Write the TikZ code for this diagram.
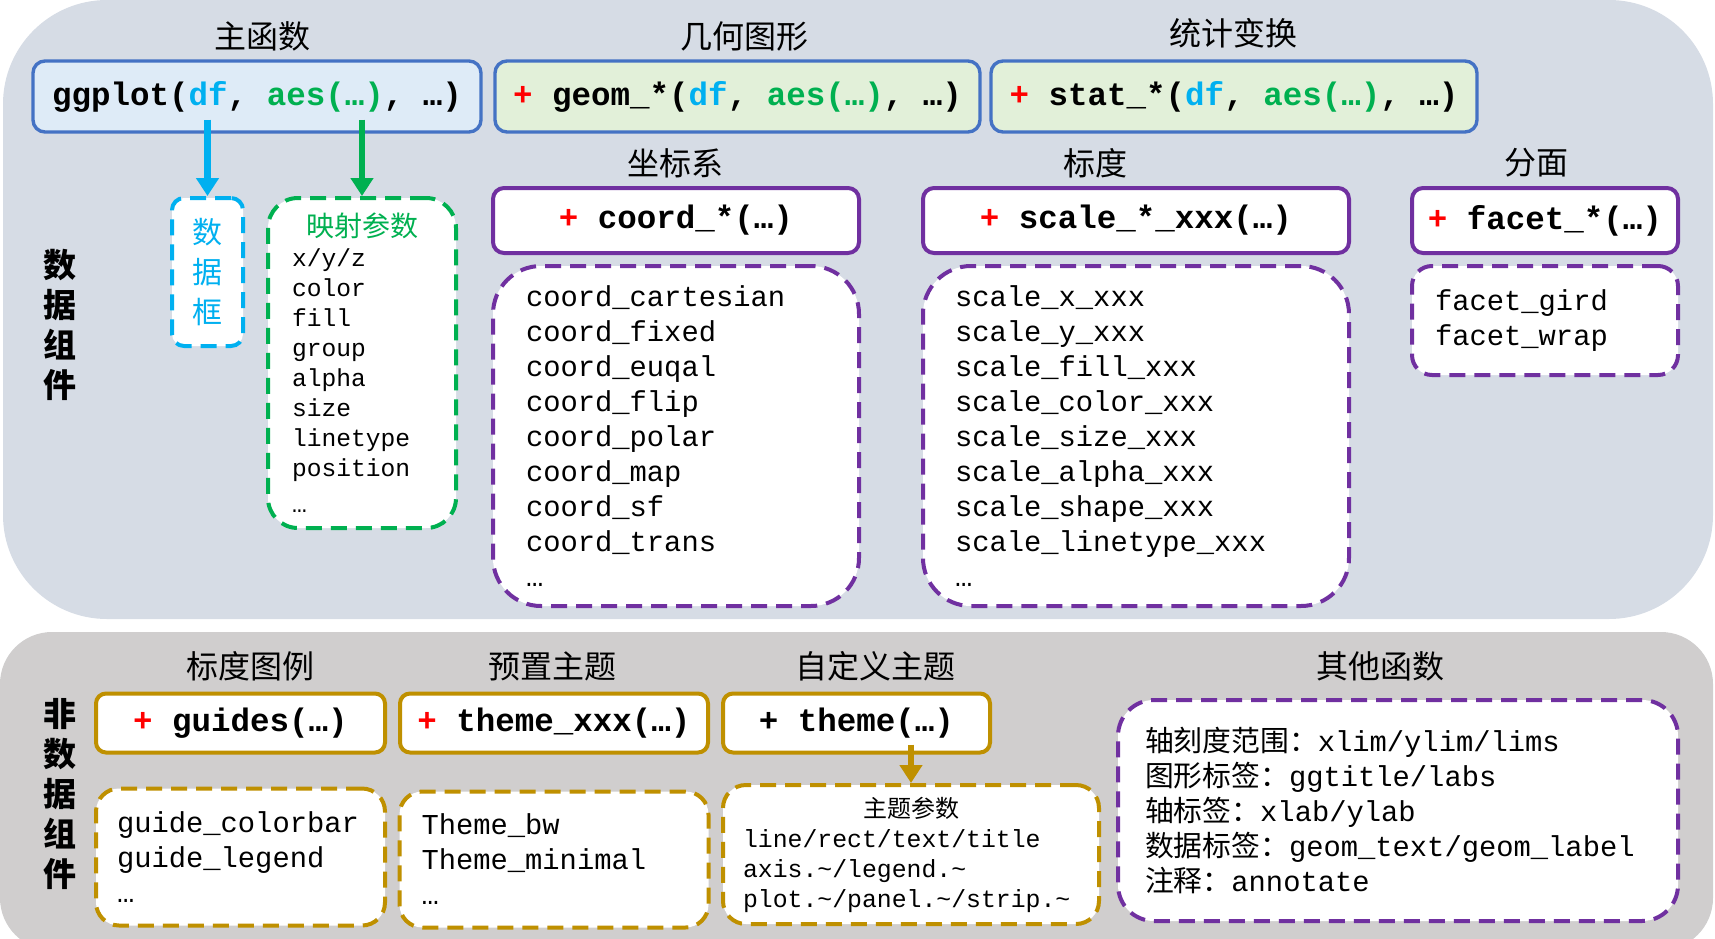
\documentclass[tikz,border=0pt]{standalone}
\usepackage{fontspec}
\usepackage{xcolor}
\usepackage{tikz}
\usetikzlibrary{positioning, arrows.meta}

\setmonofont{Liberation Mono}
\newfontfamily\cjk{Noto Sans CJK SC}

\definecolor{toppanel}{HTML}{D6DCE5}
\definecolor{botpanel}{HTML}{D0CECE}
\definecolor{ggblue}{HTML}{4472C4}
\definecolor{ggfill}{HTML}{DEEBF7}
\definecolor{geomfill}{HTML}{E2F0D9}
\definecolor{dfblue}{HTML}{00B0F0}
\definecolor{aesgreen}{HTML}{00B050}
\definecolor{purp}{HTML}{7030A0}
\definecolor{gold}{HTML}{BF9000}
\definecolor{plusred}{HTML}{FF0000}

\newcommand{\funcfont}{\ttfamily\bfseries\fontsize{16.25}{19}\selectfont}
\newcommand{\listfont}{\ttfamily\fontsize{14.4}{17.5}\selectfont}
\newcommand{\smalllist}{\ttfamily\fontsize{12.3}{15}\selectfont}
\newcommand{\paramfont}{\ttfamily\fontsize{12.4}{15}\selectfont}
\newcommand{\titlefont}{\cjk\fontsize{16}{19}\selectfont}
\newcommand{\redplus}{\textcolor{plusred}{+}~}
\newcommand{\zhtext}[1]{{\cjk #1}}

\tikzset{
  title/.style={font=\titlefont, inner sep=0pt},
  sidelabel/.style={font=\cjk\bfseries\fontsize{16.5}{20}\selectfont, align=center},
  topbox/.style={draw=ggblue, line width=1.7pt, rounded corners=6pt, minimum height=35.5pt, inner sep=0pt, font=\funcfont},
  fnbox/.style={draw=#1, fill=white, line width=2pt, rounded corners=5.5pt, inner sep=0pt, font=\funcfont},
  listbox/.style={draw=#1, fill=white, line width=2pt, dash pattern=on 8pt off 4.5pt, align=left, inner ysep=0pt, font=\listfont}
}

\begin{document}
\begin{tikzpicture}[x=0.5pt, y=-0.5pt, >={Triangle[width=11pt,length=9pt]}]
  \useasboundingbox (0,0) rectangle (1715,938);

  % panels
  \fill[toppanel, rounded corners=52pt] (3,0) rectangle (1713,619);
  \fill[botpanel, rounded corners=26pt] (0,632) rectangle (1713,950);

  \node (datalabel) [sidelabel] at (60,325) {数\\据\\组\\件};
  \node (nondatalabel) [sidelabel] at (60,794) {非\\数\\据\\组\\件};

  % top row
  \node (maintitle) [title] at (262.5,36) {主函数};
  \node (geomtitle) [title] at (744,36) {几何图形};
  \node (stattitle) [title] at (1233,33) {统计变换};

  \node (ggplot) [topbox, fill=ggfill, minimum width=224pt] at (257,96.5) {ggplot(\textcolor{dfblue}{df}, \textcolor{aesgreen}{aes(…)}, …)};
  \node (geom) [topbox, fill=geomfill, minimum width=242.5pt] at (737.5,96.5) {\redplus geom\_*(\textcolor{dfblue}{df}, \textcolor{aesgreen}{aes(…)}, …)};
  \node (stat) [topbox, fill=geomfill, minimum width=243pt] at (1234,96.5) {\redplus stat\_*(\textcolor{dfblue}{df}, \textcolor{aesgreen}{aes(…)}, …)};

  \node (dfbox) [listbox=dfblue, rounded corners=6pt, minimum width=35.5pt, minimum height=74pt, align=center, text=dfblue, font=\cjk\fontsize{15}{20}\selectfont] at (207.5,272) {数\\据\\框};
  \node (mapbox) [listbox=aesgreen, rounded corners=15pt, text width=70pt, inner xsep=12pt, minimum height=165pt, font=\smalllist] at (362,363)
    {{\centering\cjk\color{aesgreen}\fontsize{14}{17}\selectfont 映射参数\par}x/y/z\\color\\fill\\group\\alpha\\size\\linetype\\position\\[3pt]…};

  % second row
  \node (coordtitle) [title] at (675,163) {坐标系};
  \node (scaletitle) [title] at (1095,163) {标度};
  \node (facettitle) [title] at (1536,163) {分面};

  \node (coord) [fnbox=purp, minimum width=183pt, minimum height=32.5pt] at (676,220.5) {\redplus coord\_*(…)};
  \node (scale) [fnbox=purp, minimum width=213pt, minimum height=32.5pt] at (1136,220.5) {\redplus scale\_*\_xxx(…)};
  \node (facet) [fnbox=purp, minimum width=133pt, minimum height=32.5pt] at (1545,220.5) {\redplus facet\_*(…)};

  \node (coordlist) [listbox=purp, below=4.5pt of coord, rounded corners=24pt, text width=150pt, inner xsep=16.5pt, minimum height=170pt]
    {coord\_cartesian\\coord\_fixed\\coord\_euqal\\coord\_flip\\coord\_polar\\coord\_map\\coord\_sf\\coord\_trans\\…};
  \node (scalelist) [listbox=purp, below=4.5pt of scale, rounded corners=24pt, text width=181pt, inner xsep=16pt, minimum height=170pt]
    {scale\_x\_xxx\\scale\_y\_xxx\\scale\_fill\_xxx\\scale\_color\_xxx\\scale\_size\_xxx\\scale\_alpha\_xxx\\scale\_shape\_xxx\\scale\_linetype\_xxx\\…};
  \node (facetlist) [listbox=purp, below=4.5pt of facet, rounded corners=10pt, text width=110pt, inner xsep=11.5pt, minimum height=54.5pt]
    {facet\_gird\\facet\_wrap};

  % bottom row
  \node (guidetitle) [title] at (250.5,666) {标度图例};
  \node (presettitle) [title] at (552,666) {预置主题};
  \node (customtitle) [title] at (875,666) {自定义主题};
  \node (othertitle) [title] at (1380,666) {其他函数};

  \node (guides) [fnbox=gold, rounded corners=5pt, minimum width=144.5pt, minimum height=29.5pt] at (240.5,723) {\redplus guides(…)};
  \node (themexxx) [fnbox=gold, rounded corners=5pt, minimum width=154pt, minimum height=29.5pt] at (554,723) {\redplus theme\_xxx(…)};
  \node (themebox) [fnbox=gold, rounded corners=5pt, minimum width=133.5pt, minimum height=29.5pt] at (856.5,723) {+ theme(…)};

  \node (guidelist) [listbox=gold, below=16pt of guides, rounded corners=11.5pt, text width=123.5pt, inner xsep=10.5pt, minimum height=68.5pt]
    {guide\_colorbar\\guide\_legend\\…};
  \node (themelist) [listbox=gold, below=17.5pt of themexxx, rounded corners=11.5pt, text width=132.5pt, inner xsep=11pt, minimum height=68pt]
    {Theme\_bw\\Theme\_minimal\\…};
  \node (params) [listbox=gold, rounded corners=11.5pt, text width=168pt, inner xsep=10pt, minimum height=69.5pt, font=\paramfont] at (911,854.5)
    {{\centering\cjk\fontsize{12}{15}\selectfont 主题参数\par}line/rect/text/title\\axis.\textasciitilde/legend.\textasciitilde\\plot.\textasciitilde/panel.\textasciitilde/strip.\textasciitilde};
  \node (otherlist) [listbox=purp, rounded corners=18pt, text width=253pt, inner xsep=13.5pt, minimum height=110.5pt] at (1398,810.5)
    {\zhtext{轴刻度范围：}xlim/ylim/lims\\\zhtext{图形标签：}ggtitle/labs\\\zhtext{轴标签：}xlab/ylab\\\zhtext{数据标签：}geom\_text/geom\_label\\\zhtext{注释：}annotate};

  \draw [->, dfblue, line width=3.3pt] ([yshift=7pt]ggplot.south -| dfbox.north) -- (dfbox.north);
  \draw [->, aesgreen, line width=3.3pt] ([yshift=7pt]ggplot.south -| mapbox.north) -- (mapbox.north);
  \draw [->, gold, line width=3.3pt] ([yshift=5pt]themebox.south -| params.north) -- (params.north);
\end{tikzpicture}
\end{document}
